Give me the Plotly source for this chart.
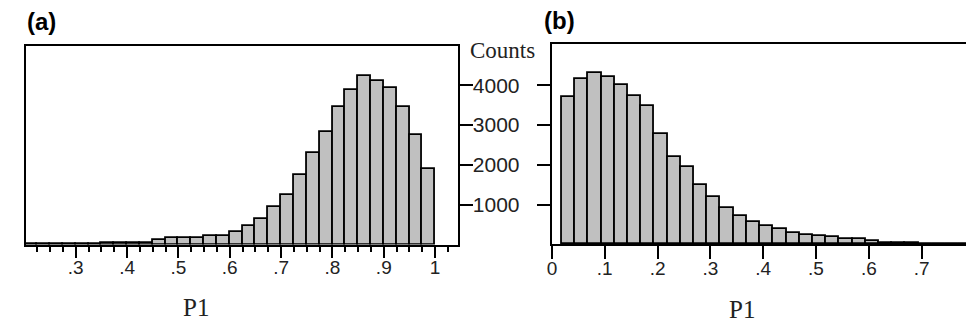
import plotly.graph_objects as go

W, H = 974, 326

# ---- data ----
bin_width = 0.025
a_bin_start = 0.2
a_counts = [15, 20, 20, 20, 20, 20, 50, 50, 50, 50, 110, 160, 160, 160, 210, 210,
            320, 475, 635, 935, 1250, 1750, 2310, 2835, 3460, 3875, 4225, 4100,
            3935, 3460, 2740, 1900]
b_bin_start = 0.019
b_counts = [3700, 4165, 4315, 4215, 4005, 3740, 3475, 2790, 2210, 1945, 1505, 1180,
            925, 715, 560, 450, 390, 290, 230, 215, 175, 130, 130, 80, 30, 25, 25,
            20, 20, 0, 20]
a_tickvals = [0.3, 0.4, 0.5, 0.6, 0.7, 0.8, 0.9, 1.0]
a_ticktext = [".3", ".4", ".5", ".6", ".7", ".8", ".9", "1"]
b_tickvals = [0, 0.1, 0.2, 0.3, 0.4, 0.5, 0.6, 0.7]
b_ticktext = ["0", ".1", ".2", ".3", ".4", ".5", ".6", ".7"]
y_tickvals = [1000, 2000, 3000, 4000]
y_ticktext = ["1000", "2000", "3000", "4000"]

a_x = [a_bin_start + bin_width * (i + 0.5) for i in range(len(a_counts))]
b_x = [b_bin_start + bin_width * (i + 0.5) for i in range(len(b_counts))]


def px_x(p):
    return p / W


def px_y(p):
    return 1 - p / H


fill = "#c0c0c0"
edge = dict(color="black", width=1.8)
sans = "Liberation Sans, Arial, sans-serif"
serif = "Liberation Serif, Times New Roman, serif"

fig = go.Figure()
fig.add_trace(go.Bar(x=a_x, y=a_counts, width=bin_width, marker=dict(color=fill, line=edge),
                     xaxis="x", yaxis="y", showlegend=False))
fig.add_trace(go.Bar(x=b_x, y=b_counts, width=bin_width, marker=dict(color=fill, line=edge),
                     xaxis="x2", yaxis="y2", showlegend=False))

axis_common = dict(showline=True, linecolor="black", linewidth=1.8, mirror=True,
                   showgrid=False, zeroline=False, ticks="outside", tickcolor="black",
                   tickwidth=2, tickfont=dict(family=sans, size=19, color="#222"))

fig.update_layout(
    width=W, height=H,
    margin=dict(l=0, r=0, t=0, b=0),
    paper_bgcolor="white", plot_bgcolor="white",
    bargap=0,
    xaxis=dict(axis_common, domain=[px_x(13), px_x(447)], range=[0.203, 1.044],
               tickvals=a_tickvals, ticktext=a_ticktext, ticklen=12, anchor="y",
               minor=dict(dtick=0.025, tick0=0, ticks="outside", ticklen=6,
                          tickwidth=2, tickcolor="black", showgrid=False),
               ticklabelstandoff=-7),
    yaxis=dict(axis_common, domain=[px_y(236.5), px_y(38)], range=[0, 4987],
               side="right", tickvals=y_tickvals, ticktext=y_ticktext, ticklen=13,
               tickfont=dict(family=sans, size=21, color="#222"),
               anchor="x", ticklabelstandoff=-4),
    xaxis2=dict(axis_common, domain=[px_x(541.7), px_x(972)], range=[0, 0.8105],
                tickvals=b_tickvals, ticktext=b_ticktext, ticklen=13, anchor="y2",
                ticklabelstandoff=-7),
    yaxis2=dict(axis_common, domain=[px_y(236.3), px_y(36)], range=[0, 5045],
                side="left", tickvals=y_tickvals, showticklabels=False, ticklen=13,
                anchor="x2"),
    annotations=[
        dict(text="<b>(a)</b>", x=px_x(12), y=px_y(14), xref="paper", yref="paper",
             xanchor="left", yanchor="middle", showarrow=False,
             font=dict(family=sans, size=24, color="black")),
        dict(text="<b>(b)</b>", x=px_x(532), y=px_y(12), xref="paper", yref="paper",
             xanchor="left", yanchor="middle", showarrow=False,
             font=dict(family=sans, size=24, color="black")),
        dict(text="Counts", x=px_x(492), y=px_y(42), xref="paper", yref="paper",
             xanchor="center", yanchor="middle", showarrow=False,
             font=dict(family=serif, size=23, color="#222")),
        dict(text="P1", x=px_x(184), y=px_y(299), xref="paper", yref="paper",
             xanchor="center", yanchor="middle", showarrow=False,
             font=dict(family=serif, size=25, color="#222")),
        dict(text="P1", x=px_x(733), y=px_y(301), xref="paper", yref="paper",
             xanchor="center", yanchor="middle", showarrow=False,
             font=dict(family=serif, size=25, color="#222")),
    ],
)

fig.write_html("out.html")
